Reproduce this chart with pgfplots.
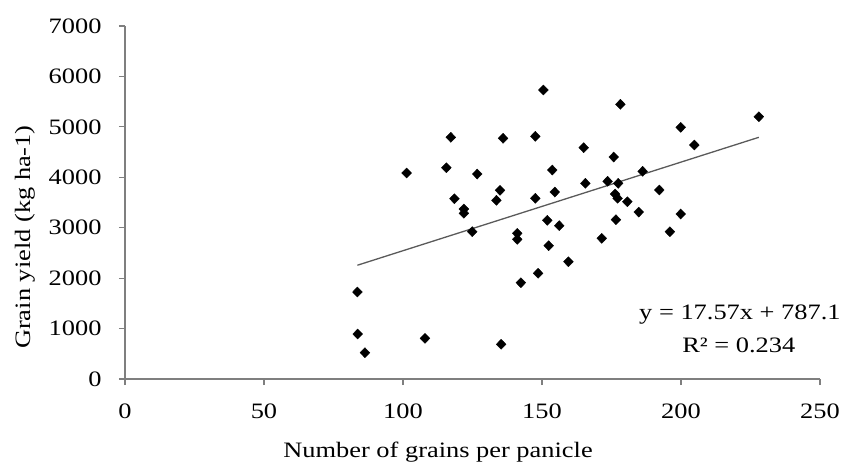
\documentclass[border=0pt]{standalone}
\usepackage{fontspec}
\setmainfont{Liberation Serif}[FakeStretch=1.2]
\usepackage{pgfplots}
\pgfplotsset{compat=1.18}
\definecolor{axisgray}{HTML}{7F7F7F}
\definecolor{trendgray}{HTML}{5A5A5A}
\begin{document}
\begin{tikzpicture}
\path[use as bounding box] (-125pt,-85pt) rectangle (719pt,379pt);
\begin{axis}[
    at={(0pt,0pt)}, anchor=south west,
    scale only axis, width=695pt, height=353pt,
    xmin=0, xmax=250, ymin=0, ymax=7000,
    xtick={0,50,...,250}, ytick={0,1000,...,7000},
    axis x line=bottom, axis y line=left,
    axis line style={draw=axisgray, line width=1.2pt, -},
    tick align=outside, major tick length=6pt,
    tick style={draw=axisgray, line width=1.2pt},
    ticklabel style={font=\fontsize{22}{26}\selectfont},
    /pgf/number format/assume math mode=true,
    /pgf/number format/set thousands separator={},
    xticklabel style={yshift=-15pt},
    yticklabel style={xshift=-14pt},
    xlabel={Number of grains per panicle},
    ylabel={Grain yield (kg ha-1)},
    label style={font=\fontsize{22}{26}\selectfont},
    xlabel style={at={(axis description cs:0.4504,-0.2068)}, anchor=center},
    ylabel style={at={(axis description cs:-0.144,0.402)}, anchor=center, rotate=0},
    clip=false,
]
\addplot[only marks, mark=diamond*, mark size=5pt, mark options={xscale=1.3, fill=black, draw=black}] coordinates {
(150.5,5731) (117.2,4793) (136.0,4773) (147.6,4812) (101.3,4085) (115.6,4190)
(126.7,4065) (153.7,4144) (134.9,3742) (154.6,3708) (118.5,3575) (133.6,3543)
(147.6,3583) (121.9,3371) (121.9,3286) (151.9,3147) (156.2,3040) (124.9,2921)
(141.1,2889) (141.1,2770) (152.4,2644) (159.5,2326) (148.6,2096) (142.4,1910)
(83.6,1725) (83.7,892) (107.9,806) (86.3,522) (135.3,688) (178.2,5447)
(228.0,5201) (199.9,4991) (204.8,4640) (165.0,4587) (175.8,4402) (186.2,4118)
(165.6,3880) (173.6,3920) (177.4,3880) (192.2,3748) (176.3,3668) (177.2,3583)
(180.7,3516) (184.8,3311) (199.9,3272) (176.6,3159) (196.0,2921) (171.5,2790)
};
\addplot[draw=trendgray, line width=1.3pt, no marks] coordinates {(83.6,2256) (228.0,4793)};
\node[font=\fontsize{22}{26}\selectfont] at (axis cs:221.2,1269) {y = 17.57x + 787.1};
\node[font=\fontsize{22}{26}\selectfont] at (axis cs:220.8,674) {R² = 0.234};
\end{axis}
\end{tikzpicture}
\end{document}
